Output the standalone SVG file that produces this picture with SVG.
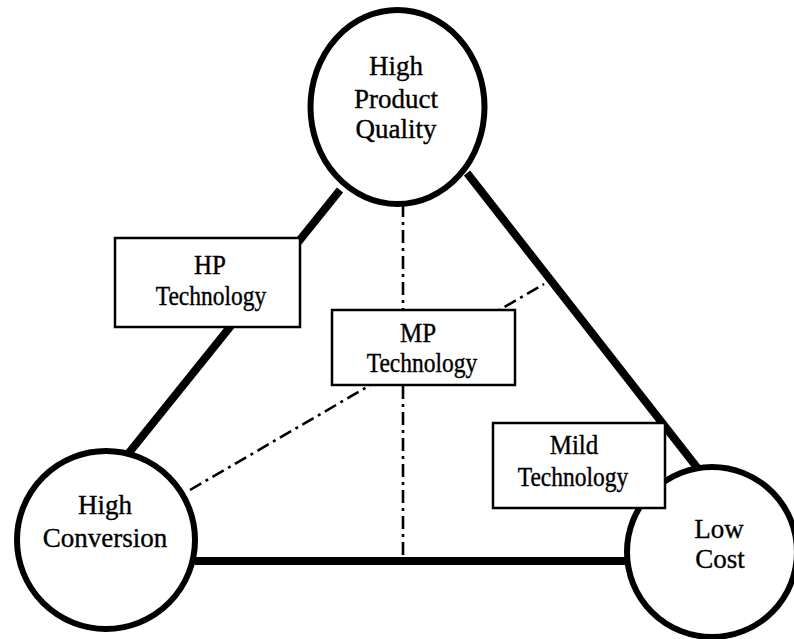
<svg xmlns="http://www.w3.org/2000/svg" width="794" height="639" viewBox="0 0 794 639">
<style>
.node{fill:#fff;stroke:#000;stroke-width:6}
.box{fill:#fff;stroke:#000;stroke-width:2.5}
.thick{stroke:#000;stroke-width:8;fill:none}
.dd{stroke:#000;stroke-width:2.6;fill:none;stroke-dasharray:13 5 3 5}
text{font-family:"Liberation Serif","Times New Roman",serif;fill:#000;text-anchor:middle;stroke:#000;stroke-width:0.35}
.c{font-size:27px}
.b{font-size:25px}
</style>
<rect width="794" height="639" fill="#fff"/>
<g id="connectors">
<line class="thick" x1="340" y1="190" x2="128" y2="454"/>
<line class="thick" x1="467" y1="173" x2="699" y2="470"/>
<line class="thick" x1="195" y1="561" x2="630" y2="561"/>
<line class="dd" x1="403" y1="204" x2="403" y2="558"/>
<line class="dd" x1="190" y1="490" x2="544" y2="284"/>
</g>
<g id="hpq">
<ellipse class="node" cx="397.5" cy="107" rx="87" ry="97"/>
<text class="c" x="396" y="75">High</text>
<text class="c" x="396" y="108">Product</text>
<text class="c" x="396" y="138">Quality</text>
</g>
<g id="hc">
<circle class="node" cx="106" cy="540" r="89"/>
<text class="c" x="105" y="514">High</text>
<text class="c" x="105" y="547">Conversion</text>
</g>
<g id="lc">
<circle class="node" cx="712" cy="552" r="85"/>
<text class="c" x="719" y="538">Low</text>
<text class="c" x="720" y="568">Cost</text>
</g>
<g id="hp">
<rect class="box" x="115" y="238" width="185" height="89"/>
<text class="b" transform="translate(210 274) scale(1 1.08)">HP</text>
<text class="b" transform="translate(211 305) scale(0.94 1.08)">Technology</text>
</g>
<g id="mp">
<rect class="box" x="332" y="310" width="183" height="75"/>
<text class="b" transform="translate(418 342) scale(1 1.08)">MP</text>
<text class="b" transform="translate(422 372) scale(0.94 1.08)">Technology</text>
</g>
<g id="mild">
<rect class="box" x="493" y="423" width="172" height="85"/>
<text class="b" transform="translate(574 454) scale(1 1.08)">Mild</text>
<text class="b" transform="translate(573 486) scale(0.94 1.08)">Technology</text>
</g>
</svg>
